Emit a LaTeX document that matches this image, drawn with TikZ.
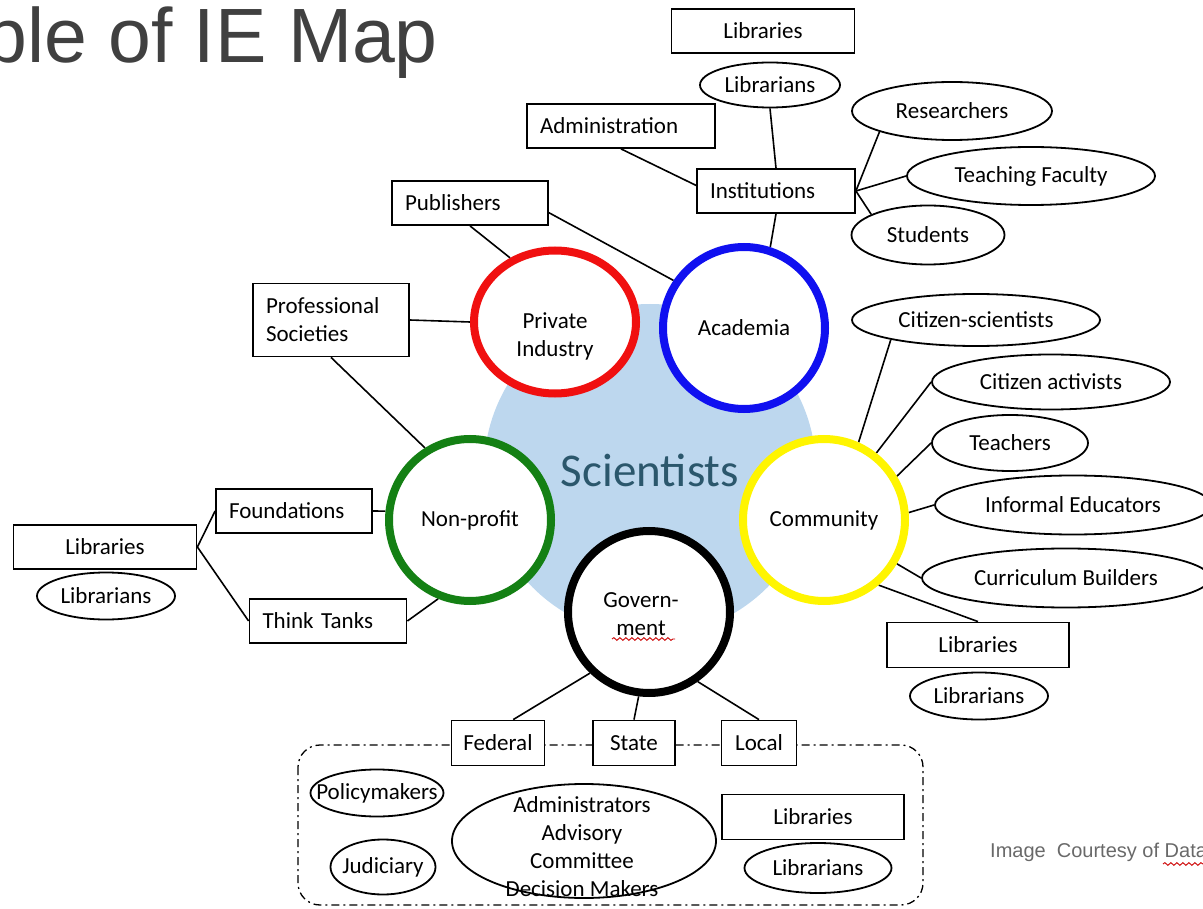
\documentclass[tikz,border=0pt]{standalone}
\usepackage{fontspec}
\setmainfont{Carlito}
\newfontfamily\slidefont{Liberation Sans}
\usetikzlibrary{shapes.geometric,decorations.pathmorphing,backgrounds}
\definecolor{sciblue}{RGB}{189,215,238}
\definecolor{sciteal}{RGB}{43,87,108}
\definecolor{ringred}{RGB}{240,16,16}
\definecolor{ringblue}{RGB}{16,16,240}
\definecolor{ringgreen}{RGB}{20,128,20}
\definecolor{ringyellow}{RGB}{255,245,0}
\definecolor{slidegray}{RGB}{64,64,64}
\definecolor{creditgray}{RGB}{105,105,105}

\begin{document}
\begin{tikzpicture}[x=1pt,y=-1pt,
  box/.style={draw,line width=1.8pt,fill=white,inner sep=0pt,minimum height=44pt,font=\fontsize{23}{28}\selectfont},
  oval/.style={draw,ellipse,line width=1.8pt,fill=white,inner sep=0pt,font=\fontsize{23}{28}\selectfont},
  ring/.style={draw,circle,line width=8pt,fill=white,minimum size=162pt,font=\fontsize{23}{28}\selectfont},
  ringtext/.style={align=center,font=\fontsize{23}{28}\selectfont},
  link/.style={line width=1.6pt},
  squiggle/.style={red!80!black,line width=0.9pt,decorate,decoration={snake,amplitude=1.4pt,segment length=6pt}}]
\useasboundingbox (0,0) rectangle (1203,909);
\clip (0,0) rectangle (1203,909);

% slide title and credit
\node[anchor=base west,inner sep=0pt,text=slidegray,font=\slidefont\fontsize{77}{80}\selectfont] (title) at (-16,63) {ple of IE Map};
\node[anchor=base west,inner sep=0pt,text=creditgray,font=\slidefont\fontsize{20}{22}\selectfont] (credit) at (990,857) {Image\ \ Courtesy of Data};
\draw[squiggle] (1163,864) -- (1205,864);

% scientists and the five sectors
\node[circle,fill=sciblue,minimum size=332pt,text=sciteal,font=\fontsize{47}{50}\selectfont] (sci) at (650,470) {Scientists};
\node[ring,draw=ringred,ellipse,minimum height=143pt] (priv) at (555,322) {};
\node[ringtext] (privtxt) at (555,336) {Private\\Industry};
\node[ring,draw=ringblue] (acad) at (744,328) {Academia};
\node[ring,draw=ringgreen] (nonp) at (470,520) {Non-profit};
\node[ring,draw=ringyellow] (comm) at (824,520) {Community};
\node[ring,draw=black] (gov) at (649,612) {};
\node[ringtext] (govtxt) at (641,614) {Govern-\\ment};
\draw[squiggle] (612,639) -- (675,639);

% academia side
\node[box,minimum width=183pt] (libA) at (763,31) {Libraries};
\node[oval,minimum width=140pt,minimum height=45pt] (lnA) at (770,85) {Librarians};
\node[box,minimum width=188pt,text width=162pt,align=left] (admin) at (621,126) {Administration};
\node[box,minimum width=158pt,text width=132pt,align=left] (inst) at (776,191) {Institutions};
\node[oval,minimum width=200pt,minimum height=58pt] (resr) at (952,111) {Researchers};
\node[oval,minimum width=248pt,minimum height=58pt] (teach) at (1031,176) {Teaching Faculty};
\node[oval,minimum width=153pt,minimum height=59pt] (stud) at (928,235) {Students};
\node[box,minimum width=156pt,text width=130pt,align=left] (publ) at (470,203) {Publishers};
\node[box,minimum width=156pt,minimum height=73pt,text width=130pt,align=left] (prof) at (331,320) {Professional\\Societies};

% community side
\node[oval,minimum width=248pt,minimum height=52pt] (citsci) at (976,320) {Citizen-scientists};
\node[oval,minimum width=238pt,minimum height=55pt] (citact) at (1051,382) {Citizen activists};
\node[oval,minimum width=156pt,minimum height=56pt] (teachers) at (1010,443) {Teachers};
\node[oval,minimum width=276pt,minimum height=59pt] (infed) at (1073,505) {Informal Educators};
\node[oval,minimum width=288pt,minimum height=59pt] (curric) at (1066,578) {Curriculum Builders};
\node[box,minimum width=182pt,minimum height=45pt] (libC) at (978,645) {Libraries};
\node[oval,minimum width=138pt,minimum height=47pt] (lnC) at (979,696) {Librarians};

% non-profit side
\node[box,minimum width=156pt,text width=130pt,align=left] (found) at (294,511) {Foundations};
\node[box,minimum width=183pt] (libB) at (105,547) {Libraries};
\node[oval,minimum width=138pt,minimum height=47pt] (lnB) at (106,596) {Librarians};
\node[box,minimum width=157pt,text width=131pt,align=left] (think) at (328,621) {Think Tanks};

% government levels
\draw[line width=1.3pt,dash pattern=on 8pt off 4pt on 2pt off 4pt,rounded corners=22pt] (298,745) rectangle (923,905);
\node[box,minimum width=93pt,minimum height=45pt] (fed) at (498,743) {Federal};
\node[box,minimum width=82pt,minimum height=45pt] (state) at (634,743) {State};
\node[box,minimum width=75pt,minimum height=45pt] (local) at (759,743) {Local};
\node[oval,minimum width=133pt,minimum height=47pt,inner xsep=-25pt] (policy) at (377,793) {Policymakers};
\node[oval,minimum width=105pt,minimum height=55pt,inner xsep=-8pt] (judic) at (383,867) {Judiciary};
\node[oval,minimum width=264pt,minimum height=114pt] (advis) at (584,841) {};
\node[ringtext] (advistxt) at (582,847) {Administrators\\Advisory\\Committee\\Decision Makers};
\node[box,minimum width=182pt,minimum height=45pt] (libD) at (813,817) {Libraries};
\node[oval,minimum width=147pt,minimum height=50pt] (lnD) at (818,868) {Librarians};

\begin{pgfonlayer}{background}
\draw[link] (lnA.south) -- (inst.north);
\draw[link] (admin.south) -- (inst.176);
\foreach \t/\a in {resr/196,teach/180,stud/160}
  \draw[link] (inst.east) -- (\t.\a);
\draw[link] (inst.south) -- (acad.72);
\draw[link] (publ.south) -- (priv.125);
\draw[link] (publ.-7) -- (acad.146);
\draw[link] (prof.east) -- (priv.west);
\draw[link] (prof.south) -- (nonp.122);
\draw[link] (found.east) -- (nonp.174);
\draw[link] (think.east) -- (nonp.248);
\draw[link] (found.west) -- (libB.east) -- (think.west);
\foreach \a/\t/\b in {66/citsci/193,52/citact/west,31/teachers/west,5/infed/west,-31/curric/west,-50/libC/north}
  \draw[link] (comm.\a) -- (\t.\b);
\draw[link] (gov.226) -- (fed.57);
\draw[link] (gov.263) -- (state.north);
\draw[link] (gov.305) -- (local.north);
\end{pgfonlayer}
\end{tikzpicture}
\end{document}
